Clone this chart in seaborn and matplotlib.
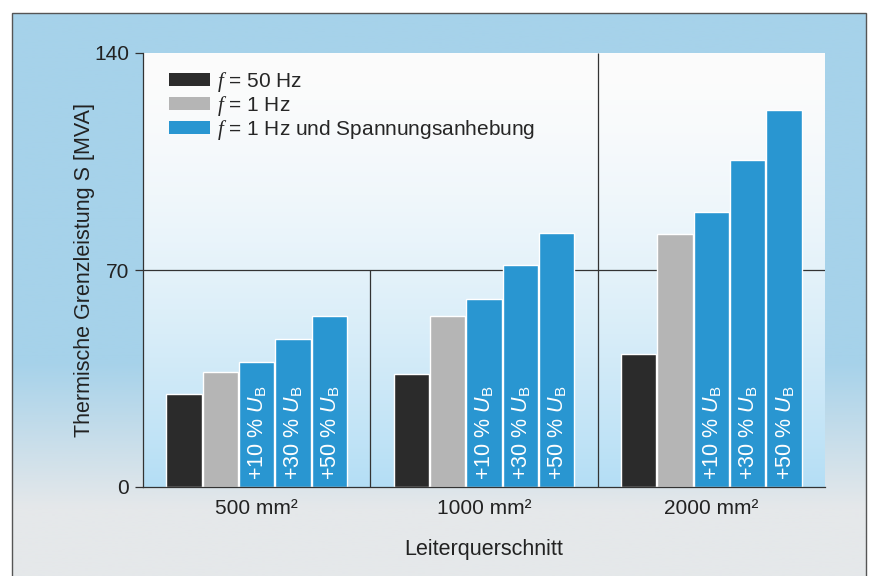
import numpy as np
import pandas as pd
import matplotlib
matplotlib.use("Agg")
import matplotlib.pyplot as plt
from matplotlib.patches import Patch, Rectangle
import seaborn as sns

# ====================== DATA ======================
categories = ["500 mm²", "1000 mm²", "2000 mm²"]
series = ["50 Hz", "1 Hz", "+10 %", "+30 %", "+50 %"]
values_50hz = [30.0, 36.5, 42.9]
values_1hz = [37.1, 55.2, 81.6]
values_p10 = [40.3, 60.6, 88.7]
values_p30 = [47.7, 71.6, 105.5]
values_p50 = [55.2, 81.9, 121.6]
bar_labels = ["+10 % $U_\\mathrm{B}$", "+30 % $U_\\mathrm{B}$", "+50 % $U_\\mathrm{B}$"]
legend_labels = ["$\\mathcal{f}$ = 50 Hz", "$\\mathcal{f}$ = 1 Hz",
                 "$\\mathcal{f}$ = 1 Hz und Spannungsanhebung"]
yticks = [0, 70, 140]

BLACK = "#2b2b2b"
GREY = "#b5b5b5"
BLUE = "#2996d1"
FS = 15

rows = []
for s, vals in zip(series, [values_50hz, values_1hz, values_p10, values_p30, values_p50]):
    for c, v in zip(categories, vals):
        rows.append({"Leiterquerschnitt": c, "Serie": s, "S": v})
df = pd.DataFrame(rows)

# ====================== STYLE ======================
sns.set_theme(style="white")
plt.rcParams["font.family"] = ["Liberation Sans", "DejaVu Sans"]
plt.rcParams["mathtext.fontset"] = "custom"
plt.rcParams["mathtext.rm"] = "Liberation Sans"
plt.rcParams["mathtext.it"] = "Liberation Sans:italic"
plt.rcParams["mathtext.cal"] = "Liberation Serif:italic"

fig = plt.figure(figsize=(8.74, 5.76), dpi=100)
fig.patch.set_facecolor("white")

# background frame (blue fading to grey)
bg = fig.add_axes([12 / 874, 0, 854 / 874, 1 - 13 / 576], zorder=-10)
t = np.linspace(0, 1, 300)[:, None]
s = np.clip((t - 0.62) / 0.26, 0, 1)
top = np.array([166, 210, 234]) / 255
bot = np.array([229, 232, 234]) / 255
grad = top[None, None, :] * (1 - s[..., None]) + bot[None, None, :] * s[..., None]
bg.imshow(grad, aspect="auto", extent=[0, 1, 0, 1], origin="upper")
bg.set_xlim(0, 1)
bg.set_ylim(0, 1)
bg.axis("off")
fig.patches.append(Rectangle((12 / 874, -0.01), 854 / 874, 1 - 13 / 576 + 0.01,
                             transform=fig.transFigure, fill=False,
                             edgecolor="#555555", lw=1.0, zorder=-5))

ax = fig.add_axes([143 / 874, 1 - 487 / 576, (825 - 143) / 874, (487 - 53) / 576])

# plot area gradient (white top, light blue bottom)
v = np.linspace(0, 1, 300)[:, None]
w = v ** 1.6
white = np.array([252, 252, 252]) / 255
lblue = np.array([180, 222, 245]) / 255
pgrad = white[None, None, :] * (1 - w[..., None]) + lblue[None, None, :] * w[..., None]
ax.imshow(pgrad, aspect="auto", extent=[-0.5, 2.5, 0, 140], origin="upper", zorder=0)

sns.barplot(data=df, x="Leiterquerschnitt", y="S", hue="Serie", order=categories,
            hue_order=series, palette=[BLACK, GREY, BLUE, BLUE, BLUE],
            gap=0.03, width=0.8, legend=False, saturation=1, ax=ax, zorder=2)

ax.axhline(70, color="#333333", lw=0.9, zorder=1)
ax.vlines(0.5, 0, 70, color="#333333", lw=0.9, zorder=1)
ax.vlines(1.5, 0, 140, color="#333333", lw=0.9, zorder=1)

for cont, lab in zip(ax.containers[2:5], bar_labels):
    for bar in cont:
        ax.text(bar.get_x() + bar.get_width() / 2 + 0.005, 2.3, lab, rotation=90,
                ha="center", va="bottom", color="white", fontsize=15.5, zorder=3)

ax.set_xlim(-0.5, 2.5)
ax.set_ylim(0, 140)
ax.set_yticks(yticks)
ax.set_xticks([0, 1, 2])
ax.set_xticklabels(categories)
ax.set_xticks([-0.5, 0.5, 1.5, 2.5], minor=True)
ax.tick_params(axis="x", which="major", length=0, pad=9, labelsize=FS, colors="#222222")
ax.tick_params(axis="x", which="minor", length=6, width=0.9, direction="out", color="#333333")
ax.tick_params(axis="y", length=6, width=0.9, direction="out", pad=4, labelsize=FS,
               color="#333333", labelcolor="#222222", left=True)

for side in ["top", "right"]:
    ax.spines[side].set_visible(False)
for side in ["left", "bottom"]:
    ax.spines[side].set_color("#333333")
    ax.spines[side].set_linewidth(0.9)

ax.set_xlabel("Leiterquerschnitt", fontsize=15.5, color="#222222", labelpad=15)
ax.set_ylabel("Thermische Grenzleistung S [MVA]", fontsize=15.5, color="#222222", labelpad=-1)

handles = [Patch(facecolor=c, edgecolor="none") for c in [BLACK, GREY, BLUE]]
ax.legend(handles, legend_labels, loc="upper left", bbox_to_anchor=(0.02, 0.99),
          frameon=False, fontsize=FS, handlelength=1.95, handleheight=0.6,
          labelspacing=0.0, handletextpad=0.35, borderaxespad=0.2)

fig.savefig("out.png", dpi=100)
